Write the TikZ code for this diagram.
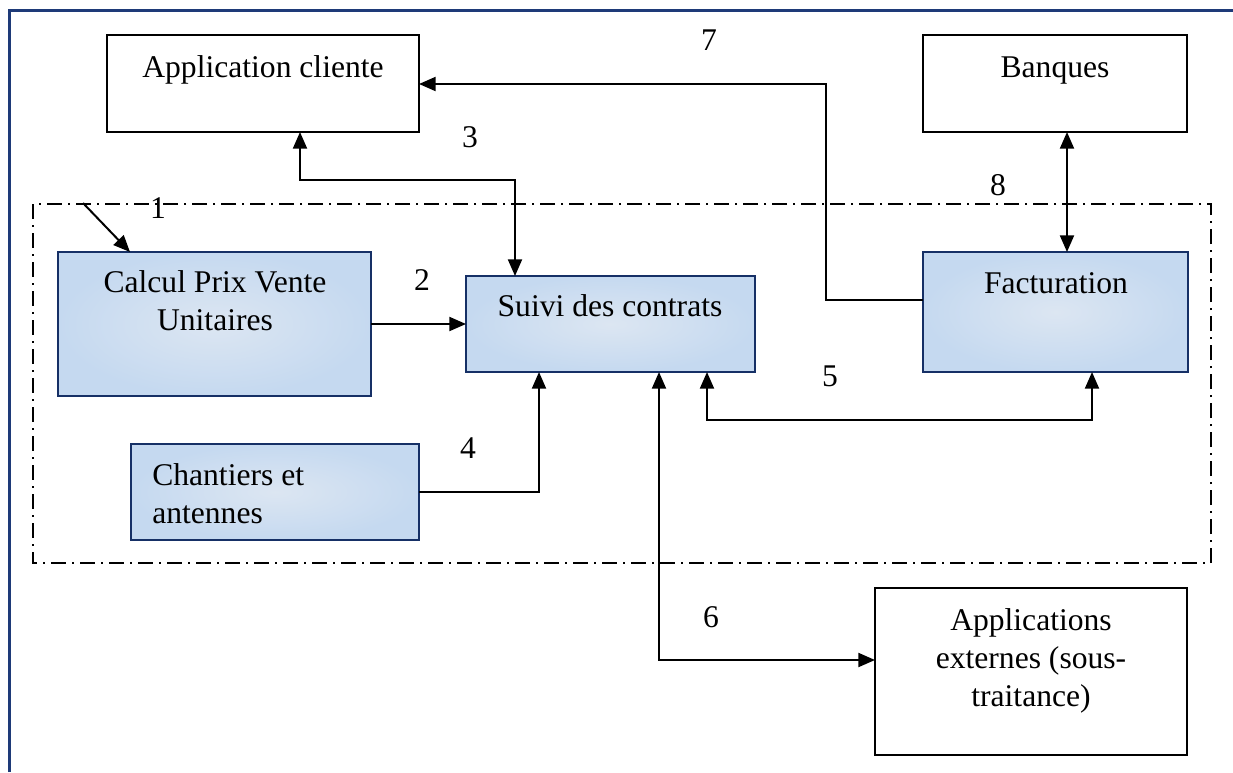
\documentclass[tikz,border=0pt]{standalone}
\usepackage{fontspec}
\setmainfont{Liberation Serif}
\usetikzlibrary{arrows.meta,fit}
\definecolor{frameblue}{RGB}{30,58,120}
\definecolor{boxedge}{RGB}{22,48,102}
\definecolor{boxout}{RGB}{197,217,240}
\definecolor{boxin}{RGB}{220,230,242}
\begin{document}
\begin{tikzpicture}[x=0.75pt,y=-0.75pt,
  wbox/.style={draw=black, line width=1.5pt, inner sep=0pt, outer sep=0pt, fill=white},
  bbox/.style={draw=boxedge, line width=1.5pt, inner sep=0pt, outer sep=0pt, inner color=boxin, outer color=boxout},
  txt/.style={font=\fontsize{23.7}{28.4}\selectfont, inner sep=0pt, anchor=base},
  ltxt/.style={txt, anchor=base west},
  conn/.style={draw=black, line width=1.5pt, arrows={-Triangle[length=12.5pt,width=10.5pt]}},
  bconn/.style={draw=black, line width=1.5pt, arrows={Triangle[length=12.5pt,width=10.5pt]-Triangle[length=12.5pt,width=10.5pt]}},
  zone/.style={draw=black, line width=1.5pt, dash pattern=on 11.25pt off 4.5pt on 1.5pt off 4.5pt}
]
\useasboundingbox (0,0) rectangle (1233,772);
\fill[white] (0,0) rectangle (1233,772);
% outer frame (left and top)
\draw[frameblue, line width=2.25pt] (9,772) -- (9,10) -- (1233,10);
% dash-dot zone
\draw[zone] (33,204) rectangle (1211,563);
% boxes
\node[wbox, fit={(107,35) (419,132)}] (appc) {};
\node[wbox, fit={(923,35) (1187,132)}] (banq) {};
\node[bbox, fit={(58,252) (371,396)}] (calc) {};
\node[bbox, fit={(466,276) (755,372)}] (suivi) {};
\node[bbox, fit={(923,252) (1188,372)}] (fact) {};
\node[bbox, fit={(131,444) (419,540)}] (chan) {};
\node[wbox, fit={(875,588) (1187,755)}] (appx) {};
% box texts
\node[txt] (tappc) at (263,77) {Application cliente};
\node[txt] (tbanq) at (1055,77) {Banques};
\node[txt] (tcalc1) at (215,292) {Calcul Prix Vente};
\node[txt] (tcalc2) at (215,330) {Unitaires};
\node[txt] (tsuivi) at (610,316) {Suivi des contrats};
\node[txt] (tfact) at (1056,293) {Facturation};
\node[ltxt] (tchan1) at (152,485) {Chantiers et};
\node[ltxt] (tchan2) at (152,523) {antennes};
\node[txt] (tappx1) at (1031,630) {Applications};
\node[txt] (tappx2) at (1031,668) {externes (sous-};
\node[txt] (tappx3) at (1031,706) {traitance)};
% number labels
\node[txt] (n1) at (158,218) {1};
\node[txt] (n2) at (422,290) {2};
\node[txt] (n3) at (470,147) {3};
\node[txt] (n4) at (468,458) {4};
\node[txt] (n5) at (830,386) {5};
\node[txt] (n6) at (711,627) {6};
\node[txt] (n7) at (709,50) {7};
\node[txt] (n8) at (998,195) {8};
% helper coordinates
\coordinate (c1s) at (83,203);
\coordinate (c1e) at (130,0);
\coordinate (c3a) at (300,180);
\coordinate (c3b) at (515,180);
\coordinate (c4) at (539,492);
\coordinate (c5a) at (707,420);
\coordinate (c5b) at (1092,420);
\coordinate (c6) at (659,660);
\coordinate (c7a) at (826,300);
\coordinate (c7b) at (826,84);
\coordinate (c8) at (1067,0);
% connectors
\draw[conn] (c1s) -- (calc.north -| c1e);
\draw[conn] (calc.east) -- (suivi.west);
\draw[bconn] (appc.south -| c3a) -- (c3a) -- (c3b) -- (suivi.north -| c3b);
\draw[conn] (chan.east) -- (c4) -- (suivi.south -| c4);
\draw[bconn] (suivi.south -| c5a) -- (c5a) -- (c5b) -- (fact.south -| c5b);
\draw[bconn] (suivi.south -| c6) -- (c6) -- (appx.west |- c6);
\draw[conn] (fact.west |- c7a) -- (c7a) -- (c7b) -- (appc.east |- c7b);
\draw[bconn] (banq.south -| c8) -- (fact.north -| c8);
\end{tikzpicture}
\end{document}
